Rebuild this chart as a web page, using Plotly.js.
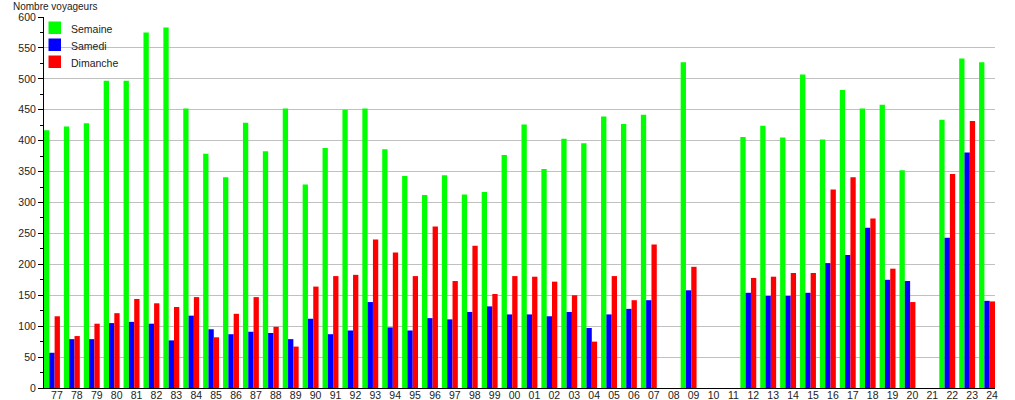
<!DOCTYPE html>
<html>
<head>
<meta charset="utf-8">
<script src="https://cdn.plot.ly/plotly-3.0.1.min.js"></script>
<style>
  html, body { margin: 0; padding: 0; background: #ffffff; }
  #chart { width: 1015px; height: 400px; }
</style>
</head>
<body>
<div id="chart"></div>
<script>
const categories = ['77','78','79','80','81','82','83','84','85','86','87','88','89','90','91','92','93','94','95','96','97','98','99',
  '00','01','02','03','04','05','06','07','08','09','10','11','12','13','14','15','16','17','18','19','20','21','22','23','24'];

const semaine = [417,423,428,497,497,575,583,452,379,341,429,383,452,329,388,450,452,386,343,312,344,313,317,
  377,426,354,403,396,439,427,442,null,527,null,null,406,424,405,507,402,482,452,458,352,null,434,533,527];

const samedi = [57,79,79,105,107,104,77,117,95,87,91,89,79,112,87,93,139,98,93,113,111,123,132,
  119,119,116,123,97,119,128,142,null,158,null,null,154,149,149,154,202,215,259,175,173,null,243,381,141];

const dimanche = [116,84,104,121,144,137,131,147,82,120,147,99,67,164,181,183,240,219,181,261,173,230,152,
  181,180,172,150,75,181,142,232,null,196,null,null,178,180,186,186,321,341,274,193,139,null,346,432,140];

const seriesNames = ['Semaine', 'Samedi', 'Dimanche'];
const seriesColors = ['#00ff00', '#0000ff', '#ff0000'];
const yTitle = 'Nombre voyageurs';

const font = 'Arial, "Liberation Sans", Helvetica, sans-serif';

const traces = [semaine, samedi, dimanche].map((vals, i) => ({
  type: 'bar',
  name: seriesNames[i],
  x: categories,
  y: vals,
  marker: { color: seriesColors[i], line: { width: 0 } },
  showlegend: false,
  hoverinfo: 'x+y+name'
}));

// Manual legend (top-left, inside the plot area, transparent background)
const legendShapes = [];
const legendAnnotations = [];
seriesNames.forEach((name, i) => {
  const top = -4.5 - i * 17;
  legendShapes.push({
    type: 'rect', layer: 'above',
    xref: 'paper', yref: 'paper',
    xsizemode: 'pixel', ysizemode: 'pixel',
    xanchor: 0, yanchor: 1,
    x0: 4.5, x1: 17, y0: top, y1: top - 12.5,
    fillcolor: seriesColors[i], line: { width: 0 }
  });
  legendAnnotations.push({
    text: name,
    xref: 'paper', yref: 'paper',
    x: 0, y: 1, xanchor: 'left', yanchor: 'middle',
    xshift: 25, yshift: top - 7.5,
    showarrow: false,
    font: { family: font, size: 10.5, color: '#222222' }
  });
});

const layout = {
  width: 1015,
  height: 400,
  margin: { l: 44, r: 20, t: 17, b: 12 },
  paper_bgcolor: '#ffffff',
  plot_bgcolor: '#ffffff',
  barmode: 'group',
  bargap: 0.2,
  bargroupgap: 0,
  font: { family: font, size: 10, color: '#222222' },
  showlegend: false,
  xaxis: {
    type: 'category',
    range: [-0.4, 47.4],
    showgrid: false,
    zeroline: false,
    showline: true,
    linecolor: '#000000',
    linewidth: 1,
    ticks: '',
    tickangle: 0,
    ticklabelshift: 5,
    ticklabelstandoff: -3,
    tickfont: { family: font, size: 10.5, color: '#222222' },
    automargin: false,
    fixedrange: true
  },
  yaxis: {
    range: [0, 600],
    dtick: 50,
    tick0: 0,
    showgrid: true,
    gridcolor: '#c0c0c0',
    gridwidth: 1,
    zeroline: false,
    showline: true,
    linecolor: '#000000',
    linewidth: 1,
    ticks: 'outside',
    ticklen: 5,
    tickcolor: '#000000',
    minor: { dtick: 25, ticks: 'outside', ticklen: 3, tickcolor: '#000000', showgrid: false },
    tickfont: { family: font, size: 10.5, color: '#222222' },
    automargin: false,
    fixedrange: true
  },
  shapes: legendShapes,
  annotations: [{
    text: yTitle,
    xref: 'paper', yref: 'paper',
    x: 0, y: 1,
    xanchor: 'left', yanchor: 'middle',
    xshift: -33, yshift: 11,
    showarrow: false,
    font: { family: font, size: 10, color: '#222222' }
  }].concat(legendAnnotations)
};

Plotly.newPlot('chart', traces, layout, { displayModeBar: false, staticPlot: true });
</script>
</body>
</html>
